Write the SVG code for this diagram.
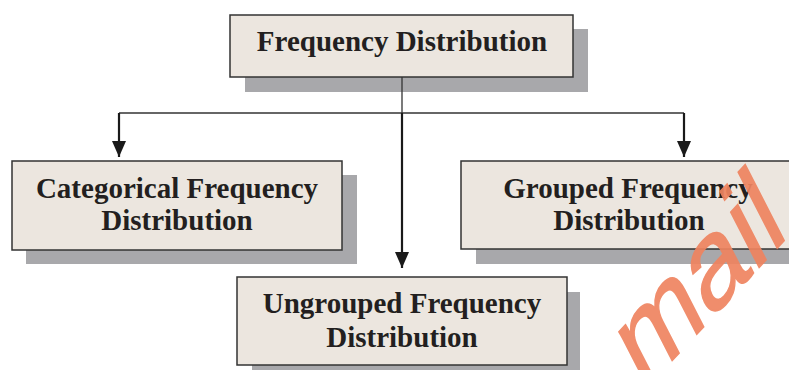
<svg xmlns="http://www.w3.org/2000/svg" width="789" height="370" viewBox="0 0 789 370">
  <style>
    .shadow { fill: #A8A8AB; }
    .box { fill: #ECE6DF; stroke: #333333; stroke-width: 1.5; }
    .label { font-family: "Liberation Serif", "Times New Roman", serif; font-weight: bold; font-size: 29px; fill: #231F20; text-anchor: middle; }
    .thin { stroke: #333333; stroke-width: 1.3; fill: none; }
    .thick { stroke: #1A1A1A; stroke-width: 2.2; fill: none; }
    .wm { font-family: "Liberation Sans", Arial, sans-serif; font-size: 118px; fill: #EF8460; stroke: #EF8460; stroke-width: 1.5; opacity: 0.92; }
  </style>
  <defs>
    <marker id="arrow" viewBox="0 0 16 14" refX="16" refY="7" markerWidth="16" markerHeight="14" markerUnits="userSpaceOnUse" orient="auto">
      <path d="M0,0 L16,7 L0,14 Z" fill="#1A1A1A"/>
    </marker>
  </defs>
  <rect width="789" height="370" fill="#FFFFFF"/>

  <g id="node-frequency-distribution">
    <rect class="shadow" x="245" y="29" width="343" height="63"/>
    <rect class="box" x="230" y="15" width="343" height="62"/>
    <text class="label" x="402" y="51">Frequency Distribution</text>
  </g>

  <g id="node-categorical">
    <rect class="shadow" x="26" y="175" width="331" height="89"/>
    <rect class="box" x="12" y="161" width="330" height="89"/>
    <text class="label" x="177" y="198">Categorical Frequency</text>
    <text class="label" x="177" y="230">Distribution</text>
  </g>

  <g id="node-grouped">
    <rect class="shadow" x="476" y="175" width="334" height="89"/>
    <rect class="box" x="461" y="161" width="334" height="88"/>
    <text class="label" x="628" y="198">Grouped Frequency</text>
    <text class="label" x="629" y="230">Distribution</text>
  </g>

  <g id="node-ungrouped">
    <rect class="shadow" x="252" y="292" width="328" height="89"/>
    <rect class="box" x="237" y="277" width="330" height="88"/>
    <text class="label" x="402" y="313">Ungrouped Frequency</text>
    <text class="label" x="402" y="347">Distribution</text>
  </g>

  <g id="connectors">
    <line class="thin" x1="402" y1="77" x2="402" y2="113"/>
    <line class="thin" x1="119" y1="113" x2="684" y2="113"/>
    <line class="thick" x1="119" y1="113" x2="119" y2="157" marker-end="url(#arrow)"/>
    <line class="thick" x1="684" y1="113" x2="684" y2="157" marker-end="url(#arrow)"/>
    <line class="thick" x1="402" y1="113" x2="402" y2="268" marker-end="url(#arrow)"/>
  </g>

  <g id="watermark">
    <text class="wm" transform="matrix(0.682,-0.731,0.457,0.889,642,393)">mail</text>
  </g>
</svg>
